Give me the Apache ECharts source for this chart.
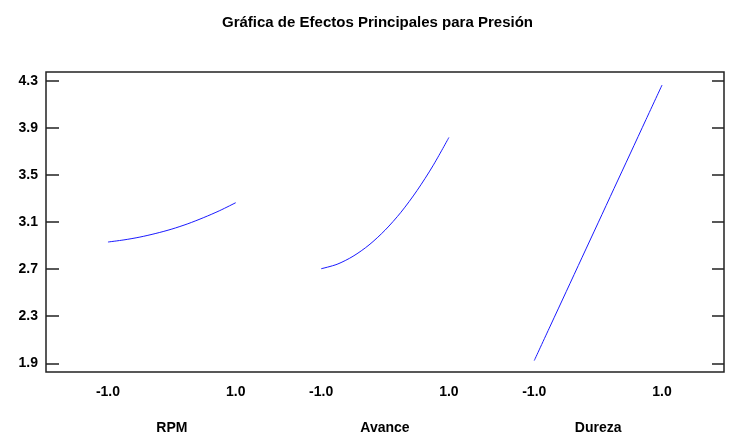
<!DOCTYPE html>
<html>
<head>
<meta charset="utf-8">
<script src="https://cdn.jsdelivr.net/npm/echarts@6/dist/echarts.min.js"></script>
<style>html,body{margin:0;padding:0;background:#fff;}#c{width:731px;height:436px;}</style>
</head>
<body>
<div id="c"></div>
<script>
// ---- data ----
var title = 'Gráfica de Efectos Principales para Presión';
var factors = ['RPM', 'Avance', 'Dureza'];
var levels = [-1, -0.75, -0.5, -0.25, 0, 0.25, 0.5, 0.75, 1];
var levelTickValues = [-1, 1];
var levelTickLabels = ['-1.0', '1.0'];
var rpmValues    = [2.930, 2.948, 2.972, 3.003, 3.040, 3.085, 3.138, 3.197, 3.264];
var avanceValues = [2.703, 2.741, 2.809, 2.905, 3.030, 3.183, 3.366, 3.577, 3.818];
var durezaValues = [1.923, 2.216, 2.508, 2.801, 3.093, 3.386, 3.678, 3.971, 4.263];
var yTicks = [1.9, 2.3, 2.7, 3.1, 3.5, 3.9, 4.3];

// ---- layout ----
var GROUP_STEP = 3.336;   // spacing between factor groups on the shared x scale
var SIDE_PAD = 0.97;
var allValues = [rpmValues, avanceValues, durezaValues];
var xMin = -1 - SIDE_PAD;
var xMax = (factors.length - 1) * GROUP_STEP + 1 + SIDE_PAD;
var yMin = 1.826, yMax = 4.374;

var labelPos = [], labelText = {}, centerPos = [], centerText = {};
factors.forEach(function (f, g) {
  var c = g * GROUP_STEP;
  centerPos.push(c);
  centerText[c.toFixed(3)] = f;
  levelTickValues.forEach(function (lv, i) {
    var p = c + lv;
    labelPos.push(p);
    labelText[p.toFixed(3)] = levelTickLabels[i];
  });
});

var series = factors.map(function (f, g) {
  return {
    type: 'line',
    name: f,
    data: levels.map(function (lv, i) { return [g * GROUP_STEP + lv, allValues[g][i]]; }),
    smooth: 0.3,
    showSymbol: false,
    lineStyle: { color: '#1a1aff', width: 1 },
    silent: true
  };
});

var font = 'Liberation Sans, Arial, sans-serif';
var chart = echarts.init(document.getElementById('c'), null, { renderer: 'canvas' });
chart.setOption({
  animation: false,
  backgroundColor: '#fff',
  title: {
    text: title, left: 217, top: 10,
    textStyle: { fontFamily: font, fontSize: 15, fontWeight: 'bold', color: '#000' }
  },
  grid: {
    left: 46, right: 7, top: 72, bottom: 64,
    show: true, borderColor: '#222', borderWidth: 1.5, backgroundColor: '#fff'
  },
  xAxis: [{
    type: 'value', min: xMin, max: xMax, position: 'bottom',
    axisLine: { show: false, onZero: false }, splitLine: { show: false },
    axisTick: { show: false },
    axisLabel: {
      customValues: labelPos, margin: 13,
      formatter: function (v) { return labelText[v.toFixed(3)] || ''; },
      fontFamily: font, fontSize: 14, fontWeight: 'bold', color: '#000'
    }
  }, {
    type: 'value', min: xMin, max: xMax, position: 'bottom', offset: 36,
    axisLine: { show: false, onZero: false }, splitLine: { show: false },
    axisTick: { show: false },
    axisLabel: {
      customValues: centerPos, margin: 13,
      formatter: function (v) { return centerText[v.toFixed(3)] || ''; },
      fontFamily: font, fontSize: 14, fontWeight: 'bold', color: '#000'
    }
  }],
  yAxis: [{
    type: 'value', min: yMin, max: yMax, position: 'left',
    axisLine: { show: false, onZero: false }, splitLine: { show: false },
    axisTick: { show: true, inside: true, length: 13, customValues: yTicks, lineStyle: { color: '#222', width: 1.5 } },
    axisLabel: {
      customValues: yTicks, margin: 8,
      formatter: function (v) { return v.toFixed(1); },
      fontFamily: font, fontSize: 14, fontWeight: 'bold', color: '#000'
    }
  }, {
    type: 'value', min: yMin, max: yMax, position: 'right',
    axisLine: { show: false, onZero: false }, splitLine: { show: false },
    axisTick: { show: true, inside: true, length: 12, customValues: yTicks, lineStyle: { color: '#222', width: 1.5 } },
    axisLabel: { show: false }
  }],
  series: series
});
</script>
</body>
</html>
